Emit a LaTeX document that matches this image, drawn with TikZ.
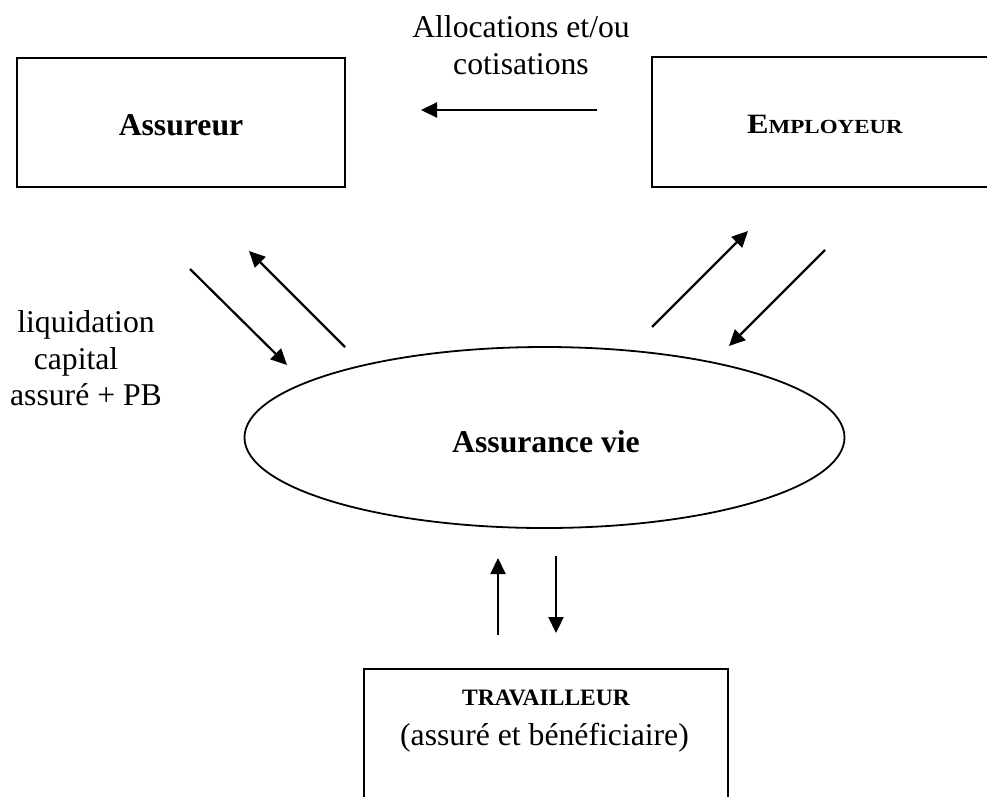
\documentclass[tikz,border=0pt]{standalone}
\usepackage{fontspec}
\setmainfont{Liberation Serif}
\usepackage{graphicx}
\usetikzlibrary{shapes.geometric,arrows.meta}
\begin{document}
\begin{tikzpicture}[x=1pt,y=-1pt,
  box/.style={draw, rectangle, line width=2.2pt, inner sep=0pt},
  conn/.style={line width=2.2pt, -{Triangle[length=16pt,width=15pt]}},
  txt/.style={font=\fontsize{31.7}{36.5}\selectfont, align=center, inner sep=0pt},
  btxt/.style={font=\fontsize{31.7}{36.5}\selectfont\bfseries, inner sep=0pt}]
\useasboundingbox (0,0) rectangle (987,796);
\clip (0,0) rectangle (987,796);
% boxes
\node[box, minimum width=328pt, minimum height=129pt] (assureur) at (181,122.5) {};
\node[btxt, anchor=base] (assureurtxt) at (181,135) {Assureur};
\node[box, minimum width=346pt, minimum height=130pt] (employeur) at (825,122) {};
\node[inner sep=0pt, anchor=base, font=\bfseries] (employeurtxt) at (825,133)
  {\scalebox{1.15}[1]{{\fontsize{28}{30}\selectfont E}{\fontsize{20}{24}\selectfont MPLOYEUR}}};
\node[box, draw, ellipse, line width=1.8pt, minimum width=600pt, minimum height=181pt] (vie) at (544.5,437.5) {};
\node[btxt, anchor=base] (vietxt) at (546,452) {Assurance vie};
\node[box, minimum width=364pt, minimum height=220pt, anchor=north] (trav) at (546,668) {};
\node[inner sep=0pt, anchor=base, font=\fontsize{23.5}{26}\selectfont\bfseries] (travtitle) at (546,705) {TRAVAILLEUR};
\node[txt, anchor=base] (travsub) at (544.5,745) {(assuré et bénéficiaire)};
% labels
\node[txt, anchor=north] (alloc) at (521,15.5) {Allocations et/ou\\cotisations};
\node[txt, anchor=north] (liq) at (86,310.5) {liquidation\\capital\rule{20pt}{0pt}\\assuré + PB};
% arrow end points
\coordinate (a1s) at (597,110);  \coordinate (a1e) at (421,110);
\coordinate (a2s) at (190,269);  \coordinate (a2e) at (287,365);
\coordinate (a3s) at (345,347);  \coordinate (a3e) at (249,251);
\coordinate (a4s) at (652,327);  \coordinate (a4e) at (748,231);
\coordinate (a5s) at (825,250);  \coordinate (a5e) at (729,346);
\coordinate (a6s) at (498,635);  \coordinate (a6e) at (498,558);
\coordinate (a7s) at (556,556);  \coordinate (a7e) at (556,633);
\draw[conn] (a1s) -- (a1e);
\draw[conn] (a2s) -- (a2e);
\draw[conn] (a3s) -- (a3e);
\draw[conn] (a4s) -- (a4e);
\draw[conn] (a5s) -- (a5e);
\draw[conn] (a6s) -- (a6e);
\draw[conn] (a7s) -- (a7e);
\end{tikzpicture}
\end{document}
